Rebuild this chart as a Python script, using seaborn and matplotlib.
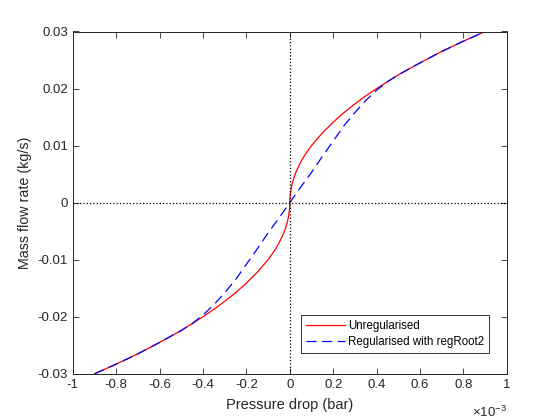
import matplotlib
matplotlib.use("Agg")
import matplotlib.pyplot as plt
import seaborn as sns
import pandas as pd

# pressure drop in units of 1e-3 bar, mass flow rate in kg/s
dp_unreg = [-0.9, -0.8, -0.7, -0.6, -0.5, -0.45, -0.4, -0.35, -0.3, -0.25, -0.2, -0.15,
            -0.1, -0.07, -0.05, -0.03, -0.02, -0.01, -0.005, -0.002, -0.0005, 0.0,
            0.0005, 0.002, 0.005, 0.01, 0.02, 0.03, 0.05, 0.07, 0.1, 0.15, 0.2, 0.25,
            0.3, 0.35, 0.4, 0.45, 0.5, 0.6, 0.7, 0.8, 0.9]
m_unreg = [-0.0300, -0.0283, -0.0265, -0.0245, -0.0224, -0.0212, -0.0200, -0.0187,
           -0.0173, -0.0158, -0.0141, -0.0122, -0.0100, -0.0084, -0.0071, -0.0055,
           -0.0045, -0.0032, -0.0022, -0.0014, -0.0007, 0.0,
           0.0007, 0.0014, 0.0022, 0.0032, 0.0045, 0.0055, 0.0071, 0.0084, 0.0100, 0.0122,
           0.0141, 0.0158, 0.0173, 0.0187, 0.0200, 0.0212, 0.0224, 0.0245, 0.0265,
           0.0283, 0.0300]

dp_reg = [-0.9, -0.8, -0.7, -0.6, -0.5, -0.45, -0.4, -0.35, -0.3, -0.25, -0.2, -0.15,
          -0.1, -0.05, 0.0, 0.05, 0.1, 0.15, 0.2, 0.25, 0.3, 0.35, 0.4, 0.45,
          0.5, 0.6, 0.7, 0.8, 0.9]
m_reg = [-0.0300, -0.0283, -0.0265, -0.0245, -0.0224, -0.0212, -0.0197, -0.0179,
         -0.0158, -0.0135, -0.0108, -0.0081, -0.0053, -0.0027, 0.0,
         0.0027, 0.0053, 0.0081, 0.0108, 0.0135, 0.0158, 0.0179, 0.0197, 0.0212,
         0.0224, 0.0245, 0.0265, 0.0283, 0.0300]

x_ticks = [-1, -0.8, -0.6, -0.4, -0.2, 0, 0.2, 0.4, 0.6, 0.8, 1]
x_tick_labels = ["-1", "-0.8", "-0.6", "-0.4", "-0.2", "0", "0.2", "0.4", "0.6", "0.8", "1"]
y_ticks = [-0.03, -0.02, -0.01, 0, 0.01, 0.02, 0.03]
y_tick_labels = ["-0.03", "-0.02", "-0.01", "0", "0.01", "0.02", "0.03"]

sns.set_theme(style="white")
plt.rcParams["font.family"] = ["Liberation Sans", "DejaVu Sans"]
plt.rcParams["mathtext.fontset"] = "custom"
plt.rcParams["mathtext.rm"] = "Liberation Sans"

grey = (0.15, 0.15, 0.15)

fig = plt.figure(figsize=(5.6, 4.2), dpi=100)
ax = fig.add_axes([0.13, 0.11, 0.775, 0.815])

df_unreg = pd.DataFrame({"dp": dp_unreg, "m": m_unreg})
df_reg = pd.DataFrame({"dp": dp_reg, "m": m_reg})

sns.lineplot(data=df_unreg, x="dp", y="m", color="red", linewidth=0.9,
             label="Unregularised", ax=ax, sort=False)
sns.lineplot(data=df_reg, x="dp", y="m", color="blue", linewidth=0.9,
             dashes=False, ax=ax, sort=False, label="Regularised with regRoot2")
ax.lines[1].set_linestyle((0, (8, 4.5)))

ax.axhline(0, color="black", linestyle=":", linewidth=0.9)
ax.axvline(0, color="black", linestyle=":", linewidth=0.9)

ax.set_xlim(-1, 1)
ax.set_ylim(-0.03, 0.03)
ax.set_xticks(x_ticks)
ax.set_xticklabels(x_tick_labels)
ax.set_yticks(y_ticks)
ax.set_yticklabels(y_tick_labels)
ax.tick_params(direction="in", length=4, width=0.6, colors=grey, labelsize=9.5,
               top=True, right=True, bottom=True, left=True,
               labeltop=False, labelright=False)
for side in ax.spines.values():
    side.set_color(grey)
    side.set_linewidth(0.7)

ax.set_xlabel("Pressure drop (bar)", fontsize=10.5, color=grey, labelpad=5)
ax.set_ylabel("Mass flow rate (kg/s)", fontsize=10.3, color=grey, labelpad=4)
ax.text(1.0, -0.09, r"$\times$10$^{-3}$", transform=ax.transAxes, ha="right",
        va="top", fontsize=9.5, color=grey)

leg = ax.legend(loc="lower right", bbox_to_anchor=(0.96, 0.06), fontsize=8.3,
                frameon=True, fancybox=False, handlelength=3.4, borderpad=0.45,
                labelspacing=0.35, handletextpad=0.25, borderaxespad=0)
leg.get_frame().set_edgecolor("black")
leg.get_frame().set_linewidth(0.7)
for t in leg.get_texts():
    t.set_color("black")

fig.savefig("out.png", dpi=100)
